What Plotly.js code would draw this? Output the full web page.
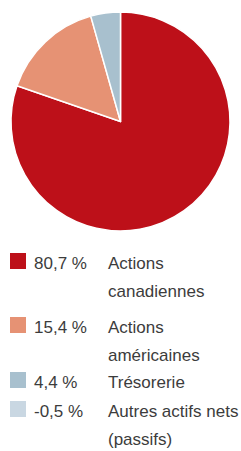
<!DOCTYPE html>
<html>
<head>
<meta charset="utf-8">
<script src="https://cdn.plot.ly/plotly-3.0.1.min.js"></script>
<style>html,body{margin:0;padding:0;background:#fff;}#chart{width:241px;height:451px;}</style>
</head>
<body>
<div id="chart"></div>
<script>
// Data
const categories = ['Actions<br>canadiennes', 'Actions<br>américaines', 'Trésorerie', 'Autres actifs nets<br>(passifs)'];
const values = [80.7, 15.4, 4.4, -0.5];
const colors = ['#BD1019', '#E69274', '#A8C0CE', '#C9D7E2'];

// Layout constants (pixels)
const W = 241, H = 451;
const pieBox = {x0: 11, x1: 230, y0: 12, y1: 231};
const sqX = 10, sqSize = 16, pctX = 33, labelX = 107;
const rowBase = [269, 333, 388, 417];
const lineGap = 28;
const fontFamily = 'Liberation Sans, Arial, sans-serif';
const fontSize = 17;
const textColor = '#3c3c3c';

const px = x => x / W;
const py = y => 1 - y / H;

const pieIdx = values.map((v, i) => i).filter(i => values[i] > 0);

const trace = {
  type: 'pie',
  values: pieIdx.map(i => values[i]),
  labels: pieIdx.map(i => categories[i].replace('<br>', ' ')),
  marker: {colors: pieIdx.map(i => colors[i]), line: {color: '#ffffff', width: 1.5}},
  sort: false,
  direction: 'clockwise',
  rotation: 0,
  textinfo: 'none',
  hoverinfo: 'none',
  showlegend: false,
  domain: {x: [px(pieBox.x0), px(pieBox.x1)], y: [py(pieBox.y1), py(pieBox.y0)]}
};

const fmt = v => v.toFixed(1).replace('.', ',') + ' %';

const shapes = [];
const annotations = [];
values.forEach((v, i) => {
  const b = rowBase[i];
  shapes.push({
    type: 'rect', xref: 'paper', yref: 'paper',
    x0: px(sqX), x1: px(sqX + sqSize), y0: py(b), y1: py(b - sqSize),
    fillcolor: colors[i], line: {width: 0}
  });
  const font = {family: fontFamily, size: fontSize, color: textColor};
  annotations.push({
    xref: 'paper', yref: 'paper', x: px(pctX), y: py(b - 6),
    xanchor: 'left', yanchor: 'middle', showarrow: false,
    text: fmt(v), font: font, borderpad: 0
  });
  categories[i].split('<br>').forEach((line, k) => {
    annotations.push({
      xref: 'paper', yref: 'paper', x: px(labelX), y: py(b + k * lineGap - 6),
      xanchor: 'left', yanchor: 'middle', showarrow: false,
      text: line, font: font, borderpad: 0
    });
  });
});

const layout = {
  width: W, height: H,
  margin: {l: 0, r: 0, t: 0, b: 0},
  paper_bgcolor: '#ffffff',
  plot_bgcolor: '#ffffff',
  shapes: shapes,
  annotations: annotations
};

Plotly.newPlot('chart', [trace], layout, {displayModeBar: false, staticPlot: true});
</script>
</body>
</html>
